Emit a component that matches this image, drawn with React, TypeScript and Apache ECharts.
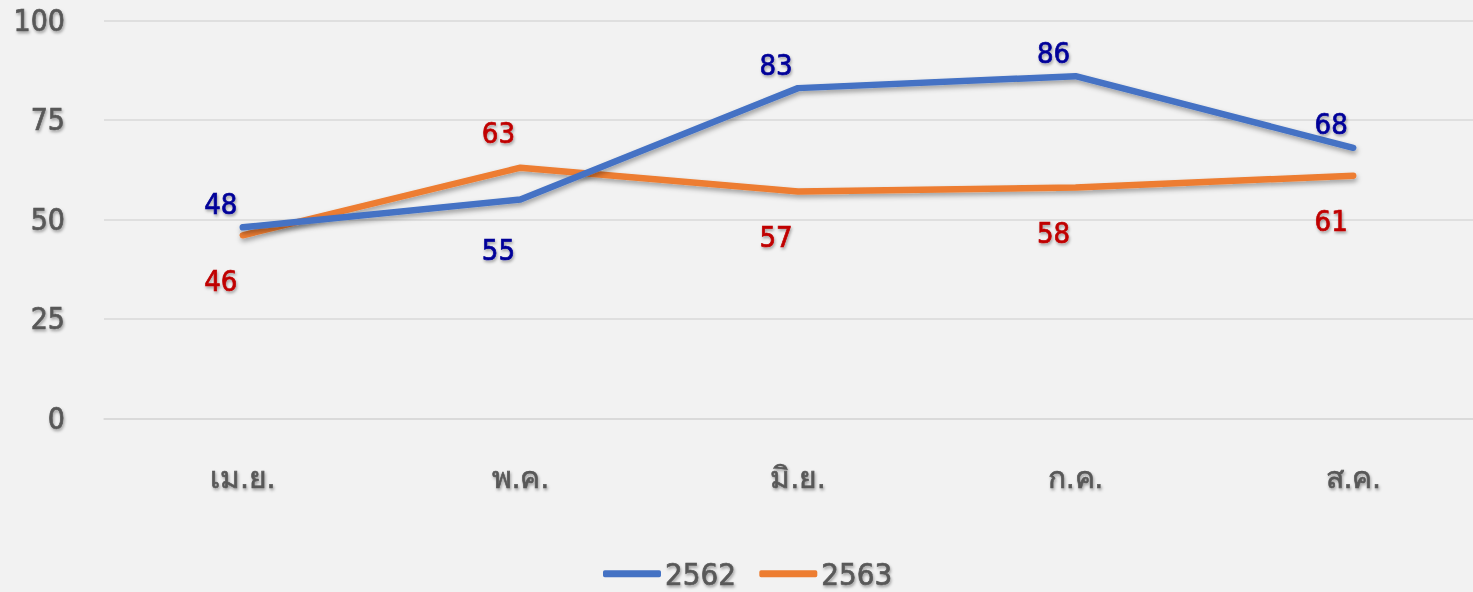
import React, { useEffect, useRef } from "react";
import * as echarts from "echarts";

const categories = ["เม.ย.", "พ.ค.", "มิ.ย.", "ก.ค.", "ส.ค."];
const series2562 = [48, 55, 83, 86, 68];
const series2563 = [46, 63, 57, 58, 61];
const yTicks = { min: 0, max: 100, interval: 25 };

const FONT = "'DejaVu Sans Condensed', 'DejaVu Sans', sans-serif";
const textShadow = {
  textShadowColor: "rgba(0,0,0,0.35)",
  textShadowBlur: 3,
  textShadowOffsetX: 1,
  textShadowOffsetY: 2,
};
const heavy = (c: string) => ({ textBorderColor: c, textBorderWidth: 0.7 });

export default function App() {
  const ref = useRef<HTMLDivElement>(null);
  useEffect(() => {
    if (!ref.current) return;
    const chart = echarts.init(ref.current, null, { renderer: "svg" });
    const lineShadow = {
      shadowColor: "rgba(0,0,0,0.35)",
      shadowBlur: 5,
      shadowOffsetX: 1,
      shadowOffsetY: 3,
    };
    const makeData = (vals: number[], topIdx: number[], upDist: number, downDist: number) =>
      vals.map((v, i) => {
        const up = topIdx.includes(i);
        return {
          value: v,
          label: {
            position: up ? "top" : "bottom",
            distance: up ? upDist : downDist,
          },
        };
      });
    const grey = "#595959";
    chart.setOption({
      animation: false,
      backgroundColor: "#f2f2f2",
      textStyle: { fontFamily: FONT },
      grid: { left: 104, top: 20.5, width: 1388, height: 397.8, containLabel: false },
      legend: {
        left: 598,
        top: 553,
        itemWidth: 58,
        itemHeight: 7,
        itemGap: 23,
        icon: "roundRect",
        textStyle: { fontSize: 31, color: grey, fontFamily: FONT, padding: [0, 0, 0, -1], ...heavy(grey), ...textShadow },
        data: ["2562", "2563"],
      },
      xAxis: {
        type: "category",
        data: categories,
        boundaryGap: true,
        axisLine: { show: true, lineStyle: { color: "#d9d9d9", width: 1.5 } },
        axisTick: { show: false },
        axisLabel: { color: grey, fontSize: 30, margin: 44, fontFamily: FONT, ...heavy(grey), ...textShadow },
      },
      yAxis: {
        type: "value",
        min: yTicks.min,
        max: yTicks.max,
        interval: yTicks.interval,
        axisLine: { show: false },
        axisTick: { show: false },
        splitLine: { lineStyle: { color: "#d9d9d9", width: 1.5 } },
        axisLabel: { color: grey, fontSize: 30, margin: 39, fontFamily: FONT, ...heavy(grey), ...textShadow },
      },
      series: [
        {
          name: "2562",
          type: "line",
          data: makeData(series2562, [0, 2, 3, 4], 9, 36),
          symbol: "circle",
          symbolSize: 0.1,
          showSymbol: true,
          itemStyle: { color: "#4472c4" },
          color: "#4472c4",
          lineStyle: { width: 6.5, color: "#4472c4", cap: "round", join: "round", ...lineShadow },
          label: {
            show: true,
            color: "#000099",
            fontSize: 29,
            fontFamily: FONT,
            offset: [-22, 0],
            ...heavy("#000099"),
            ...textShadow,
          },
          z: 3,
        },
        {
          name: "2563",
          type: "line",
          data: makeData(series2563, [1], 20, 31),
          symbol: "circle",
          symbolSize: 0.1,
          showSymbol: true,
          itemStyle: { color: "#ed7d31" },
          color: "#ed7d31",
          lineStyle: { width: 6.5, color: "#ed7d31", cap: "round", join: "round", ...lineShadow },
          label: {
            show: true,
            color: "#c00000",
            fontSize: 29,
            fontFamily: FONT,
            offset: [-22, 0],
            ...heavy("#c00000"),
            ...textShadow,
          },
          z: 2,
        },
      ],
    });
    return () => chart.dispose();
  }, []);
  return (
    <div style={{ position: "fixed", left: 0, top: 0, width: 1473, height: 592, overflow: "hidden" }}>
      <div ref={ref} style={{ width: 1500, height: 592 }} />
    </div>
  );
}
